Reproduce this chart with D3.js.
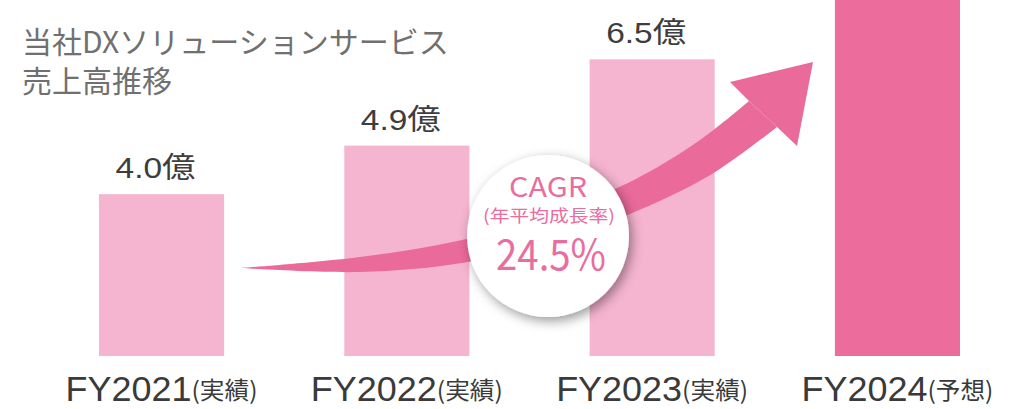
<!DOCTYPE html>
<html>
<head>
<meta charset="utf-8">
<script src="https://cdn.jsdelivr.net/npm/d3@7/dist/d3.min.js"></script>
<style>
  html, body { margin: 0; padding: 0; background: #fff; }
  svg { display: block; }
</style>
</head>
<body>
<svg id="chart" width="1012" height="409"></svg>
<script>
// ---- data ----
const categories = ["FY2021", "FY2022", "FY2023", "FY2024"];
const statuses = ["実績", "実績", "実績", "予想"];
const values = [4.0, 4.9, 6.5, 7.7];
const valueLabels = ["4.0億", "4.9億", "6.5億", ""];
const titleLines = ["当社DXソリューションサービス", "売上高推移"];
const cagrTitle = "CAGR";
const cagrSub = "(年平均成長率)";
const cagrValue = "24.5%";

// ---- layout ----
const svg = d3.select("#chart");
const jpFont = "'Noto Sans CJK JP', 'Noto Sans', sans-serif";
const numFont = "'Liberation Sans', Arial, 'Noto Sans CJK JP', sans-serif";

const x = d3.scaleBand().domain(categories).range([99, 960]).paddingInner(0.49).paddingOuter(0);
const y = d3.scaleLinear().domain([1, 7.6]).range([356, 0]);

const defs = svg.append("defs");
const f = defs.append("filter").attr("id", "shadow").attr("x", "-30%").attr("y", "-30%").attr("width", "160%").attr("height", "160%");
f.append("feDropShadow").attr("dx", 3).attr("dy", 4).attr("stdDeviation", 6)
  .attr("flood-color", "#000").attr("flood-opacity", 0.4);

// bars
svg.append("g").selectAll("rect").data(categories).join("rect")
  .attr("x", d => x(d))
  .attr("y", (d, i) => y(values[i]))
  .attr("width", x.bandwidth())
  .attr("height", (d, i) => y(1) - y(values[i]))
  .attr("fill", (d, i) => statuses[i] === "予想" ? "#ec6c9b" : "#f5b4d0");

// value labels
svg.append("g").selectAll("text").data(categories.filter((d, i) => valueLabels[i])).join("text")
  .attr("x", d => x(d) + x.bandwidth() / 2 - 6)
  .attr("y", d => y(values[categories.indexOf(d)]) - 16)
  .attr("text-anchor", "middle")
  .attr("font-family", numFont)
  .attr("font-size", 29)
  .attr("fill", "#3d3d3d")
  .attr("textLength", 80)
  .attr("lengthAdjust", "spacingAndGlyphs")
  .text(d => valueLabels[categories.indexOf(d)]);

// category labels
const cl = svg.append("g").selectAll("text").data(categories).join("text")
  .attr("x", d => x(d) + x.bandwidth() / 2)
  .attr("y", 401)
  .attr("text-anchor", "middle")
  .attr("font-family", numFont)
  .attr("fill", "#3a3a3a")
  .attr("textLength", 192)
  .attr("lengthAdjust", "spacingAndGlyphs");
cl.append("tspan").attr("font-size", 35).text(d => d);
cl.append("tspan").attr("font-size", 24).attr("font-family", jpFont).attr("dy", -2).text((d, i) => "(" + statuses[i] + ")");

// title (one text block, two lines)
const title = svg.append("text")
  .attr("font-family", jpFont)
  .attr("font-size", 30)
  .attr("fill", "#707070");
title.selectAll("tspan").data(titleLines).join("tspan")
  .attr("x", 22)
  .attr("y", (d, i) => 53 + i * 39)
  .text(d => d);

// growth arrow (annotation)
const upper = [[241, 268], [360, 257], [462, 240], [550, 214], [630, 182], [700, 140], [749, 101]];
const lower = [[777, 127], [712, 174], [630, 214], [550, 242], [462, 263], [360, 272], [241, 268]];
const line = d3.line().curve(d3.curveCatmullRom.alpha(0.5));
const bodyPath = line(upper) + line(lower).replace("M", "L") + "Z";
const arrow = svg.append("g").attr("fill", "#ea6a9a");
arrow.append("path").attr("d", bodyPath);
arrow.append("path").attr("d", d3.line()([[749, 101], [730, 82], [813, 62], [797, 146], [777, 127]]) + "Z");

// CAGR circle
const cx = 548, cy = 236, r = 81;
svg.append("circle").attr("cx", cx).attr("cy", cy).attr("r", r)
  .attr("fill", "#fff").attr("filter", "url(#shadow)");
const ct = svg.append("text").attr("fill", "#e96d9e").attr("text-anchor", "middle").attr("font-family", jpFont);
ct.append("tspan").attr("x", cx).attr("y", 197).attr("font-size", 27)
  .attr("textLength", 78).attr("lengthAdjust", "spacingAndGlyphs").text(cagrTitle);
ct.append("tspan").attr("x", cx + 1).attr("y", 222).attr("font-size", 17)
  .attr("textLength", 132).attr("lengthAdjust", "spacingAndGlyphs").text(cagrSub);
ct.append("tspan").attr("x", cx + 3).attr("y", 270).attr("font-size", 42)
  .attr("textLength", 110).attr("lengthAdjust", "spacingAndGlyphs").text(cagrValue);
</script>
</body>
</html>
